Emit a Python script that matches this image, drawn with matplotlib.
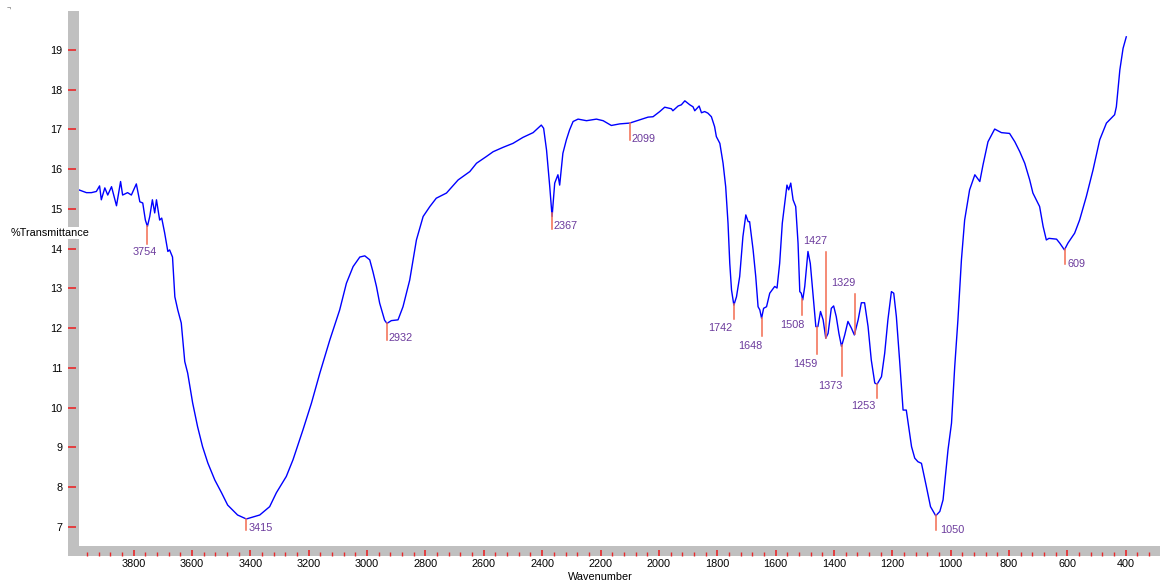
import numpy as np
import matplotlib.pyplot as plt
from matplotlib.patches import Rectangle
from matplotlib.ticker import MultipleLocator

plt.rcParams['font.family'] = ['Liberation Sans', 'DejaVu Sans']

# спектр: хвильове число (см-1) і пропускання (%)
wavenumber = [3988, 3962, 3945, 3928, 3917, 3911, 3899, 3889, 3876, 3859, 3845, 3838, 3821, 3808,
              3791, 3779, 3769, 3760, 3753, 3745, 3736, 3728, 3722, 3711, 3704, 3694, 3683, 3677,
              3667, 3659, 3649, 3637, 3625, 3615, 3598, 3581, 3564, 3546, 3522, 3499, 3478, 3444,
              3414, 3368, 3334, 3311, 3277, 3254, 3220, 3191, 3162, 3128, 3094, 3071, 3048, 3025,
              3008, 2991, 2980, 2968, 2957, 2940, 2932, 2917, 2894, 2877, 2854, 2831, 2808, 2785,
              2763, 2728, 2688, 2648, 2625, 2591, 2568, 2534, 2500, 2466, 2431, 2403, 2395, 2385,
              2374, 2366, 2357, 2346, 2340, 2329, 2317, 2306, 2294, 2277, 2248, 2214, 2191, 2163,
              2134, 2100, 2066, 2037, 2020, 1997, 1980, 1957, 1952, 1934, 1923, 1911, 1894, 1883,
              1877, 1862, 1854, 1843, 1832, 1820, 1809, 1803, 1791, 1780, 1771, 1763, 1757, 1751,
              1743, 1734, 1723, 1712, 1702, 1694, 1689, 1677, 1668, 1660, 1654, 1648, 1641, 1631,
              1620, 1603, 1595, 1586, 1577, 1566, 1561, 1555, 1548, 1540, 1531, 1523, 1517, 1512,
              1507, 1500, 1489, 1481, 1472, 1462, 1455, 1446, 1437, 1428, 1420, 1409, 1401, 1392,
              1383, 1374, 1363, 1352, 1340, 1330, 1317, 1306, 1295, 1283, 1272, 1260, 1252, 1237,
              1226, 1215, 1203, 1195, 1186, 1175, 1163, 1152, 1134, 1123, 1112, 1100, 1083, 1069,
              1051, 1037, 1026, 1009, 997, 986, 975, 963, 952, 935, 917, 900, 889, 872, 849, 826,
              798, 780, 763, 746, 729, 718, 695, 683, 672, 663, 637, 626, 610, 598, 575, 558, 535,
              512, 489, 466, 438, 432, 420, 409, 398]
transmittance = [15.48, 15.41, 15.41, 15.44, 15.58, 15.23, 15.53, 15.35, 15.56, 15.08, 15.69, 15.35,
                 15.41, 15.35, 15.63, 15.18, 15.15, 14.72, 14.56, 14.81, 15.23, 14.90, 15.23, 14.72,
                 14.77, 14.40, 13.93, 13.97, 13.79, 12.79, 12.46, 12.13, 11.16, 10.87, 10.12, 9.52,
                 9.02, 8.61, 8.18, 7.86, 7.55, 7.30, 7.20, 7.30, 7.51, 7.86, 8.27, 8.69, 9.44, 10.11,
                 10.87, 11.70, 12.46, 13.13, 13.55, 13.79, 13.82, 13.72, 13.42, 13.05, 12.63, 12.20,
                 12.12, 12.19, 12.21, 12.54, 13.21, 14.22, 14.81, 15.06, 15.27, 15.40, 15.73, 15.94,
                 16.15, 16.32, 16.44, 16.55, 16.65, 16.80, 16.92, 17.11, 17.03, 16.48, 15.56, 14.81,
                 15.65, 15.86, 15.60, 16.40, 16.74, 16.99, 17.20, 17.26, 17.22, 17.26, 17.22, 17.10,
                 17.14, 17.16, 17.24, 17.31, 17.32, 17.45, 17.56, 17.52, 17.47, 17.59, 17.62, 17.72,
                 17.62, 17.57, 17.47, 17.59, 17.42, 17.45, 17.41, 17.32, 17.07, 16.82, 16.65, 16.15,
                 15.56, 14.64, 13.63, 12.96, 12.58, 12.79, 13.30, 14.30, 14.85, 14.68, 14.68, 13.97,
                 13.30, 12.54, 12.46, 12.25, 12.50, 12.54, 12.88, 13.05, 13.01, 13.63, 14.64, 15.31,
                 15.60, 15.48, 15.65, 15.23, 15.06, 14.14, 12.92, 12.88, 12.71, 13.05, 13.93, 13.63,
                 12.88, 12.04, 12.04, 12.42, 12.21, 11.75, 11.87, 12.50, 12.56, 12.29, 11.87, 11.54,
                 11.83, 12.17, 12.00, 11.83, 12.21, 12.64, 12.64, 12.04, 11.20, 10.62, 10.59, 10.78,
                 11.37, 12.21, 12.92, 12.88, 12.29, 11.20, 9.94, 9.94, 9.02, 8.73, 8.64, 8.60, 8.01,
                 7.51, 7.28, 7.39, 7.68, 8.94, 9.61, 11.03, 12.21, 13.72, 14.72, 15.48, 15.86, 15.69,
                 16.11, 16.69, 17.01, 16.92, 16.90, 16.69, 16.44, 16.15, 15.73, 15.40, 15.06, 14.56,
                 14.22, 14.26, 14.24, 14.14, 13.97, 14.14, 14.39, 14.72, 15.31, 15.98, 16.74, 17.16,
                 17.37, 17.57, 18.50, 19.04, 19.33]

# піки: положення, довжина риски (px, + вниз), зсув підпису (px), вирівнювання
peak_pos = [3754, 3415, 2932, 2367, 2099, 1742, 1648, 1508, 1459, 1427, 1373, 1329, 1253, 1050, 609]
peak_labels = [str(p) for p in peak_pos]
tick_len = [18, 11, 17, 16, 17, 15, 18, 16, 27, -86, 31, -40, 14, 15, 15]
label_dx = [-2, 3, 2, 2, 2, -2, 1, 2, 1, 1, 1, 1, -1, 4, 3]
label_dy = [26, 9, 15, 13, 16, 24, 28, 26, 37, -97, 41, -51, 22, 15, 15]
label_ha = ['center', 'left', 'left', 'left', 'left', 'right', 'right', 'right', 'right',
            'right', 'right', 'right', 'right', 'left', 'left']

y_ticks = list(range(7, 20))
x_ticks = list(range(3800, 399, -200))
xlim = (3987.5, 282.4)
ylim = (6.52, 19.98)

W, H = 1160, 585
fig = plt.figure(figsize=(W / 100, H / 100), dpi=100)
gray = '#c0c0c0'
tickred = '#e8282b'
fs = 7.8

def fx(px):
    return px / W

def fy(py):
    return 1 - py / H

# основна область
ax = fig.add_axes([fx(79), fy(546), fx(1160 - 79), (546 - 11) / H])
ax.set_xlim(*xlim)
ax.set_ylim(*ylim)
for s in ax.spines.values():
    s.set_visible(False)
ax.set_xticks([])
ax.set_yticks([])

ax.plot(wavenumber, transmittance, color='#0000ff', lw=1.0)

# риски піків та підписи
px_per_unit = (546 - 11) / (ylim[1] - ylim[0])
w_rev = np.array(wavenumber[::-1])
t_rev = np.array(transmittance[::-1])
for p, lab, L, dx, dy, ha in zip(peak_pos, peak_labels, tick_len, label_dx, label_dy, label_ha):
    t0 = np.interp(p, w_rev, t_rev)
    ax.plot([p, p], [t0, t0 - L / px_per_unit], color='#f26b4f', lw=1.1)
    ax.annotate(lab, xy=(p, t0), xytext=(dx, -dy), textcoords='offset pixels',
                ha=ha, va='center', fontsize=fs, color='#6b3a9c')

# ліва сіра смуга з поділками
axl = fig.add_axes([fx(68), fy(546), fx(11), (546 - 11) / H])
axl.set_ylim(*ylim)
axl.set_facecolor(gray)
for s in axl.spines.values():
    s.set_visible(False)
axl.set_xticks([])
axl.set_yticks(y_ticks)
axl.tick_params(axis='y', direction='in', length=6, width=1.2, color=tickred,
                labelsize=fs, pad=4)

# нижня сіра смуга з поділками
axb = fig.add_axes([fx(79), fy(556), fx(1160 - 79), 10 / H])
axb.set_xlim(*xlim)
axb.set_facecolor(gray)
for s in axb.spines.values():
    s.set_visible(False)
axb.set_yticks([])
axb.set_xticks(x_ticks)
axb.xaxis.set_minor_locator(MultipleLocator(40))
axb.tick_params(axis='x', which='major', direction='in', length=4.5, width=1.2,
                color=tickred, labelsize=fs, pad=2)
axb.tick_params(axis='x', which='minor', direction='in', length=3, width=1.0, color=tickred)

fig.patches.append(Rectangle((fx(68), fy(556)), fx(11), 10 / H, transform=fig.transFigure,
                             facecolor=gray, edgecolor='none', zorder=0))

fig.text(fx(600), fy(577), 'Wavenumber', ha='center', va='center', fontsize=fs)
fig.text(fx(11), fy(233), '%Transmittance', ha='left', va='center', fontsize=fs,
         bbox=dict(facecolor='white', edgecolor='none', pad=0.5), zorder=10)
fig.text(fx(7), fy(9), '¬', ha='left', va='center', fontsize=5, color='#555555')

fig.savefig('out.png', dpi=100)
